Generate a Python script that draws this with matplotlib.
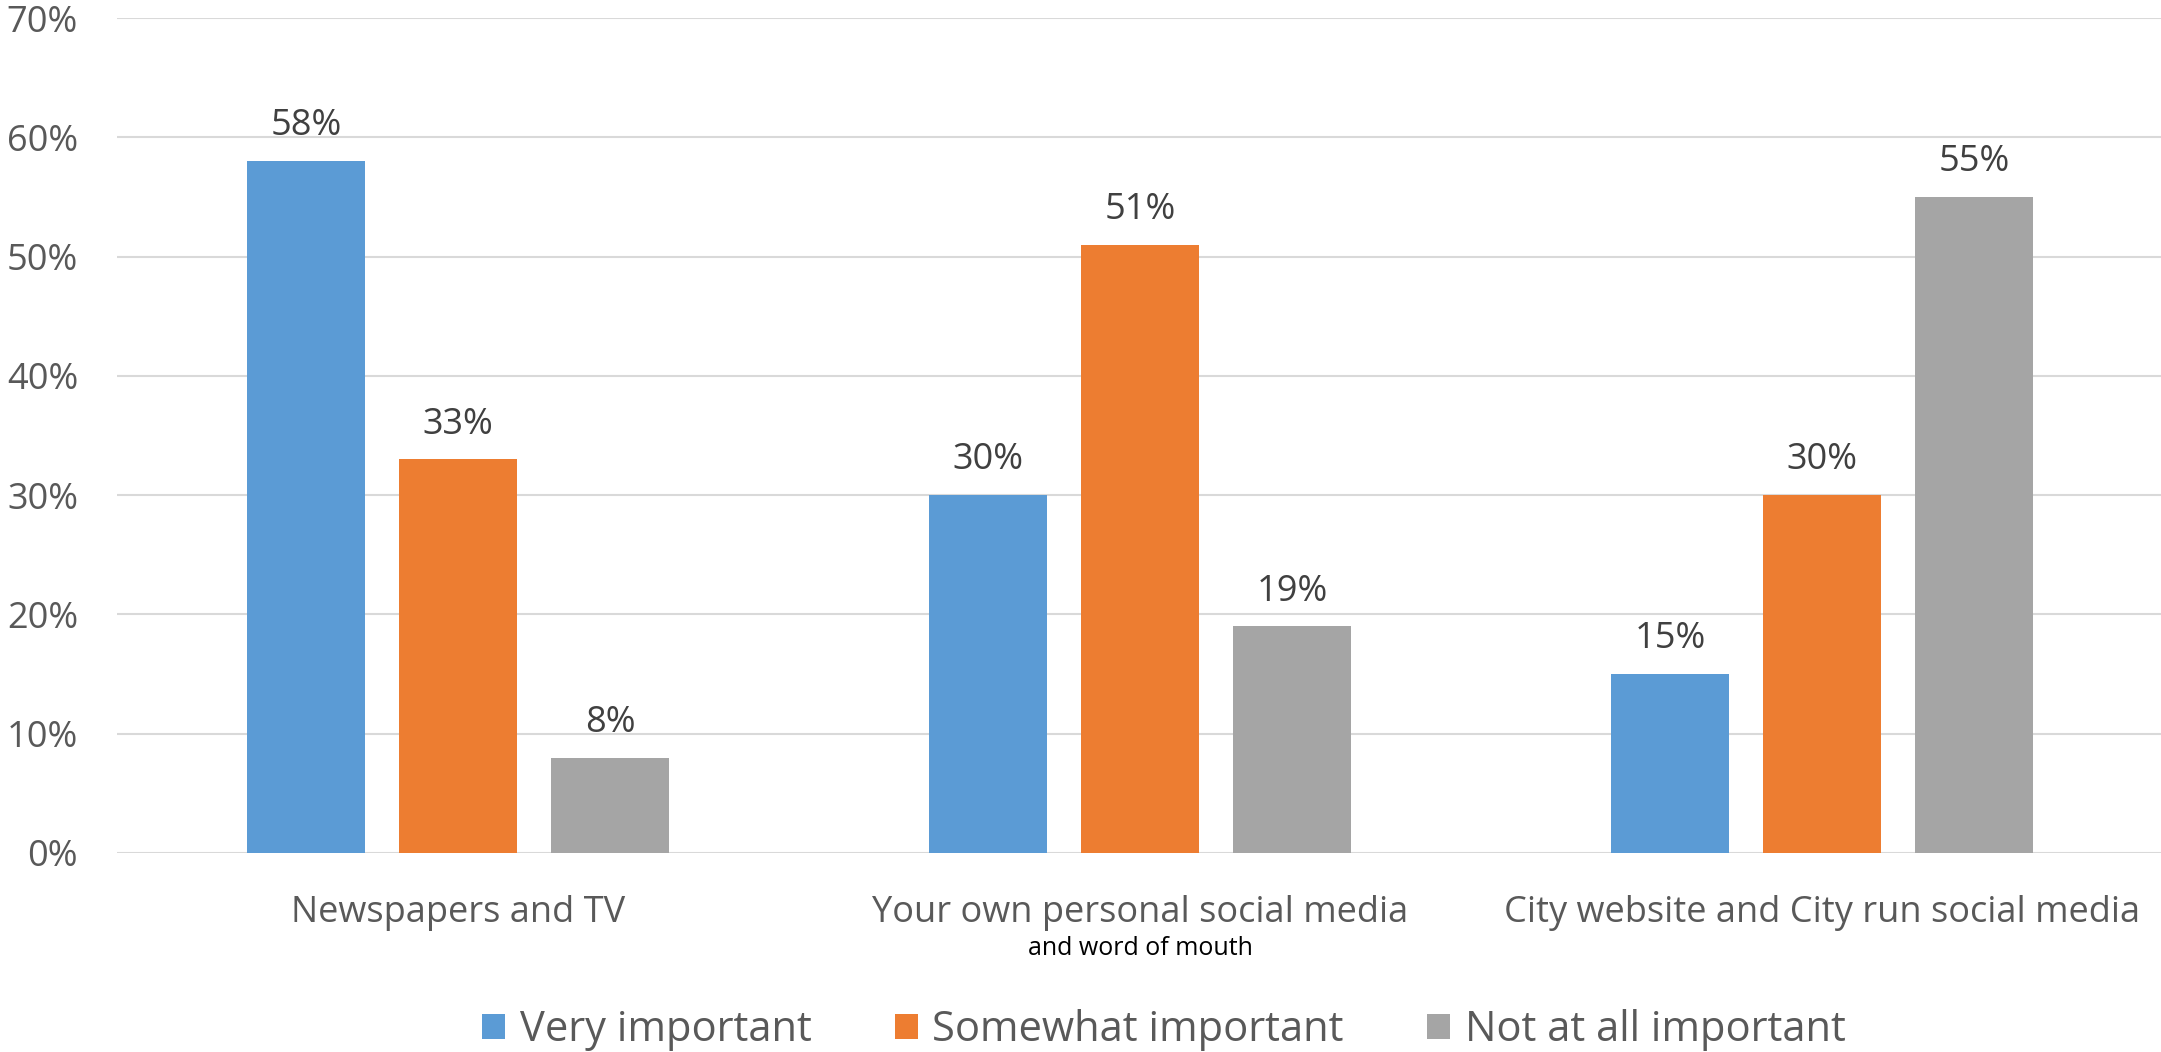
import matplotlib
matplotlib.use("Agg")
import matplotlib.pyplot as plt
import numpy as np

categories = ["Newspapers and TV", "Your own personal social media", "City website and City run social media"]
series_names = ["Very important", "Somewhat important", "Not at all important"]
very_important = [58, 30, 15]
somewhat_important = [33, 51, 30]
not_at_all_important = [8, 19, 55]
yticks = [0, 10, 20, 30, 40, 50, 60, 70]
ytick_labels = ["0%", "10%", "20%", "30%", "40%", "50%", "60%", "70%"]
subnote = "and word of mouth"

colors = ["#5B9BD5", "#ED7D31", "#A5A5A5"]
plt.rcParams['font.family'] = ['Open Sans', 'DejaVu Sans']

fig = plt.figure(figsize=(21.61, 10.52), dpi=100)
ax = fig.add_axes([117/2161, 1-853/1052, 2046/2161, (853-18)/1052])

x = np.arange(len(categories))
width = 0.174
step = 0.2227
all_series = [very_important, somewhat_important, not_at_all_important]
for i, (vals, name, c) in enumerate(zip(all_series, series_names, colors)):
    pos = x + (i - 1) * step
    ax.bar(pos, vals, width=width, color=c, label=name, zorder=3)
    for px, v in zip(pos, vals):
        ax.annotate(f"{v}%", xy=(px, v), xytext=(0, 12), textcoords="offset points",
                    ha="center", va="bottom", fontsize=26, color="#404040")

ax.set_xlim(-0.5, 2.5)
ax.set_ylim(0, 70)
ax.set_yticks(yticks)
ax.set_yticklabels(ytick_labels)
ax.set_xticks(x)
ax.set_xticklabels(categories)
ax.tick_params(axis='y', length=0, pad=28, labelsize=26, labelcolor="#595959")
ax.tick_params(axis='x', length=0, pad=30, labelsize=26, labelcolor="#595959")
ax.grid(axis='y', color="#D9D9D9", linewidth=1.5, zorder=0)
for s in ax.spines.values():
    s.set_visible(False)

ax.annotate(subnote, xy=(1, 0), xycoords=('data', 'axes fraction'),
            xytext=(0, -69), textcoords='offset points', ha='center', va='center',
            fontsize=18, color="#000000",
            family=['Liberation Sans Narrow', 'Open Sans', 'DejaVu Sans'])

fig.legend(loc='center', bbox_to_anchor=(1164/2161, 1-1030/1052), ncol=3,
           frameon=False, fontsize=30, labelcolor="#595959",
           handlelength=0.55, handleheight=0.55, handletextpad=0.35,
           columnspacing=2.0)

fig.savefig("out.png", dpi=100)
